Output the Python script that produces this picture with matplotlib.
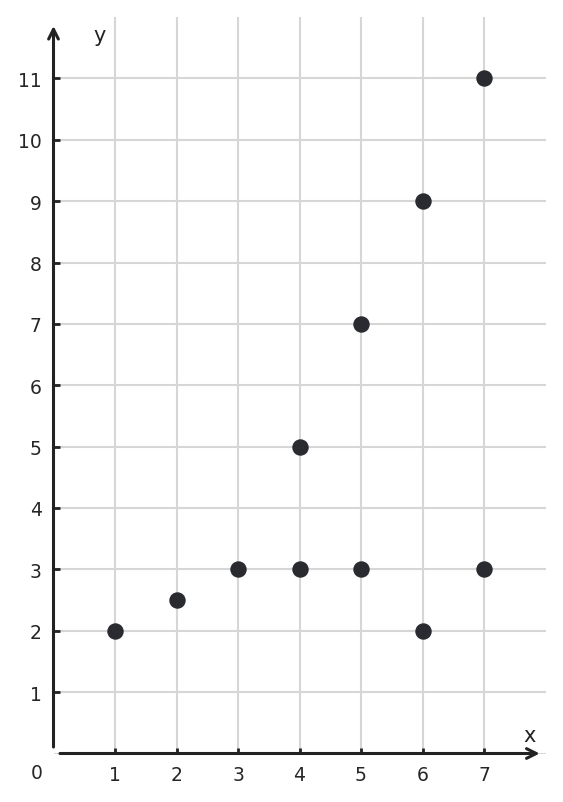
import matplotlib
matplotlib.use("Agg")
import matplotlib.pyplot as plt

xs = [1, 2, 3, 4, 4, 5, 5, 6, 6, 7, 7]
ys = [2, 2.5, 3, 3, 5, 3, 7, 2, 9, 3, 11]
xticks = [1, 2, 3, 4, 5, 6, 7]
yticks = [1, 2, 3, 4, 5, 6, 7, 8, 9, 10, 11]

W, H = 563, 803
fig = plt.figure(figsize=(W / 100, H / 100), dpi=100)
left, right, top, bottom = 53.5, 545.5, 18, 754.5
ax = fig.add_axes([left / W, (H - bottom) / H, (right - left) / W, (bottom - top) / H])
ax.set_xlim(0, 8)
ax.set_ylim(0, 12)
for s in ax.spines.values():
    s.set_visible(False)

dark = "#222222"
ax.set_xticks(xticks)
ax.set_yticks(yticks)
ax.tick_params(direction="in", length=4, width=2, color=dark, labelsize=13.5,
               labelcolor="#262626", pad=8.5)
ax.grid(True, color="#d6d6d6", linewidth=1.5, zorder=0)
ax.axhline(0, color="#d6d6d6", linewidth=1.5, zorder=0)
ax.set_axisbelow(True)

ax.annotate("", xy=(7.95, 0), xytext=(0.06, 0),
            arrowprops=dict(arrowstyle="->,head_length=0.7,head_width=0.35", lw=2.2, color=dark),
            annotation_clip=False)
ax.annotate("", xy=(0, 11.9), xytext=(0, 0.06),
            arrowprops=dict(arrowstyle="->,head_length=0.7,head_width=0.35", lw=2.2, color=dark),
            annotation_clip=False)

ax.scatter(xs, ys, s=140, color="#2a2b30", zorder=5, linewidths=0)

ax.text(0.75, 11.7, "y", fontsize=15, color=dark, ha="center", va="center")
ax.text(7.74, 0.3, "x", fontsize=15, color=dark, ha="center", va="center")
ax.text(-0.27, -0.31, "0", fontsize=13.5, color="#262626", ha="center", va="center")

fig.savefig("out.png", dpi=100)
